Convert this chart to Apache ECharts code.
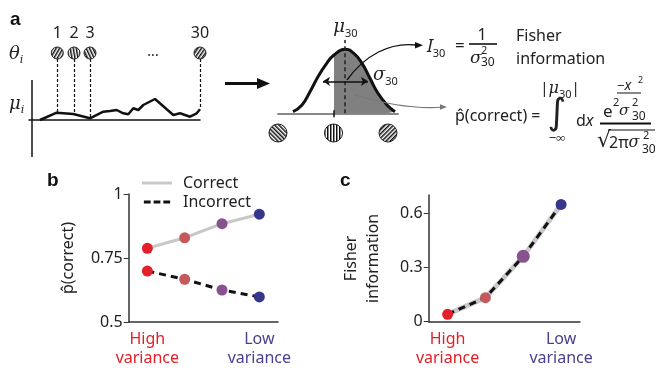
<!DOCTYPE html>
<html>
<head>
<meta charset="utf-8">
<script src="https://cdn.jsdelivr.net/npm/echarts@6/dist/echarts.min.js"></script>
<style>
  html, body { margin: 0; padding: 0; background: #fff; }
  #chart { width: 656px; height: 371px; }
</style>
</head>
<body>
<div id="chart"></div>
<script>
// values
const varianceLevels = ['High variance', 'Mid-high variance', 'Mid-low variance', 'Low variance'];
const levelColors = ['#e3202a', '#c45a5c', '#87528f', '#36368a'];
const pCorrect = [0.788, 0.829, 0.884, 0.921];
const pIncorrect = [0.699, 0.667, 0.625, 0.598];
const fisherInfo = [0.041, 0.133, 0.361, 0.648];
const fisherTicks = [0, 0.3, 0.6];

// panel a: mean response along the stimulus axis
const traceX = [8, 24.7, 41.3, 58, 71.3, 78, 84.7, 91.3, 96.3, 101.3, 106.3, 111.3, 123, 141.3, 148, 158, 164.7, 168];
const traceY = [0, 7.3, 6, 1.7, 8.3, 9, 10, 6.7, 5.7, 11.7, 10, 15, 21, 5, 6.7, 3.3, 6.7, 10.7];
const stimLabels = ['1', '2', '3', '30'];
const stimX = [25.3, 42, 58, 168];
const stimMu = [7.3, 6, 1.7, 10.7];
const stimAngles = [30, -10, -25, 35];

// panel a: response distribution for stimulus 30
const gaussX = [-52, -43, -35, -27, -19, -11, 0, 8, 17, 25, 33, 42, 50];
const gaussY = [1.6, 8.3, 21.6, 36.6, 49, 58.3, 64, 60.6, 50, 35, 20, 8.3, 1.6];
const threshold = -11;
const sigmaLeft = -22, sigmaRight = 23, sigmaLevel = 32;

const FONT = 'Noto Sans';
const MATH = 'DejaVu Serif';
const highColor = '#e3202a';
const lowColor = '#4b3f8e';

const chart = echarts.init(document.getElementById('chart'));

function stripes(deg) {
  const c = document.createElement('canvas');
  c.width = 3; c.height = 3;
  const ctx = c.getContext('2d');
  ctx.fillStyle = '#fff'; ctx.fillRect(0, 0, 3, 3);
  ctx.fillStyle = '#111'; ctx.fillRect(0, 0, 1.5, 3);
  return { image: c, repeat: 'repeat', rotation: deg * Math.PI / 180 };
}

function txt(x, y, text, o) {
  return {
    type: 'text', x: x, y: y, silent: true, z: 20,
    style: Object.assign({
      text: text, fill: '#222', fontFamily: FONT, fontSize: 16,
      align: 'left', verticalAlign: 'middle'
    }, o || {})
  };
}
function seg(x1, y1, x2, y2, o) {
  return {
    type: 'line', silent: true, z: 20,
    shape: { x1: x1, y1: y1, x2: x2, y2: y2 },
    style: Object.assign({ stroke: '#111', lineWidth: 1.5 }, o || {})
  };
}
function tri(points, fill) {
  return { type: 'polygon', silent: true, z: 20, shape: { points: points }, style: { fill: fill || '#111' } };
}
function hatchCircle(cx, cy, r, deg) {
  return {
    type: 'circle', silent: true, z: 20,
    shape: { cx: cx, cy: cy, r: r },
    style: { fill: stripes(deg), stroke: '#222', lineWidth: 1 }
  };
}

const sub = { fontFamily: FONT, fontSize: 11, lineHeight: 11, verticalAlign: 'bottom' };
const subI = { fontFamily: MATH, fontStyle: 'italic', fontSize: 11, lineHeight: 11, verticalAlign: 'bottom' };
const mathI = { fontFamily: MATH, fontStyle: 'italic', fontSize: 18, lineHeight: 24 };

function catAxis(grid) {
  return {
    type: 'category', gridIndex: grid, data: varianceLevels, boundaryGap: true,
    axisLine: { lineStyle: { color: '#333', width: 1.5 } },
    axisTick: { alignWithLabel: true, interval: 0, length: 5, lineStyle: { color: '#333', width: 1.2 } },
    axisLabel: {
      interval: 0, margin: 8, fontFamily: FONT, fontSize: 16, lineHeight: 19,
      formatter: (v, i) => (i === 0 || i === varianceLevels.length - 1) ? v.replace(' ', '\n') : '',
      color: (v, i) => i === 0 ? highColor : lowColor
    },
    splitLine: { show: false }
  };
}
function colored(values, big) {
  return values.map((v, i) => ({ value: v, symbolSize: big && i === big ? 13 : 11, itemStyle: { color: levelColors[i] } }));
}

chart.setOption({
  animation: false,
  backgroundColor: '#fff',
  grid: [
    { left: 29, top: 59, width: 171, height: 98 },
    { left: 278, top: 40, width: 120, height: 77.3 },
    { left: 128.7, top: 194, width: 149.3, height: 128 },
    { left: 428.7, top: 195, width: 151.3, height: 126.7 }
  ],
  legend: {
    orient: 'vertical', left: 137, top: 170, itemWidth: 30, itemHeight: 3, itemGap: 3,
    selectedMode: false,
    textStyle: { fontFamily: FONT, fontSize: 16, color: '#222', padding: [0, 0, 0, 6] },
    data: [
      { name: 'Correct', icon: 'rect', itemStyle: { color: '#c8c8c8' } },
      { name: 'Incorrect', icon: 'path://M0,0h9v4h-9zM13,0h9v4h-9zM26,0h9v4h-9z', itemStyle: { color: '#111' } }
    ]
  },
  xAxis: [
    { type: 'value', gridIndex: 0, min: -3, max: 168,
      axisLine: { onZero: true, lineStyle: { color: '#111', width: 1.5 } },
      axisTick: { show: false }, axisLabel: { show: false }, splitLine: { show: false } },
    { type: 'value', gridIndex: 1, min: -67, max: 53,
      axisLine: { onZero: true, lineStyle: { color: '#888', width: 2 } },
      axisTick: { show: false }, axisLabel: { show: false }, splitLine: { show: false } },
    catAxis(2),
    catAxis(3)
  ],
  yAxis: [
    { type: 'value', gridIndex: 0, min: -37, max: 61, show: false, splitLine: { show: false } },
    { type: 'value', gridIndex: 1, min: -4, max: 73.3, show: false, splitLine: { show: false } },
    { type: 'value', gridIndex: 2, min: 0.5, max: 1, interval: 0.25,
      axisLine: { show: true, lineStyle: { color: '#333', width: 1.5 } },
      axisTick: { show: true, length: 5, lineStyle: { color: '#333' } },
      axisLabel: { fontFamily: FONT, fontSize: 16, color: '#222', margin: 6 },
      splitLine: { show: false },
      name: 'p\u0302(correct)', nameLocation: 'middle', nameGap: 52,
      nameTextStyle: { fontFamily: FONT, fontSize: 16, color: '#222' } },
    { type: 'value', gridIndex: 3, min: 0, max: 0.7,
      axisLine: { show: true, lineStyle: { color: '#333', width: 1.5 } },
      axisTick: { show: true, length: 5, customValues: fisherTicks, lineStyle: { color: '#333' } },
      axisLabel: { fontFamily: FONT, fontSize: 16, color: '#222', margin: 6, customValues: fisherTicks },
      splitLine: { show: false },
      name: 'Fisher\ninformation', nameLocation: 'middle', nameGap: 44,
      nameTextStyle: { fontFamily: FONT, fontSize: 16, color: '#222', lineHeight: 22 } }
  ],
  series: [
    {
      name: 'trace', type: 'line', xAxisIndex: 0, yAxisIndex: 0,
      data: traceX.map((x, i) => [x, traceY[i]]),
      symbol: 'none', lineStyle: { color: '#111', width: 2.5 }, z: 5,
      markLine: {
        silent: true, symbol: ['none', 'none'], label: { show: false },
        data: [
          [{ coord: [0, -37], lineStyle: { type: 'solid', color: '#111', width: 1.5 } }, { coord: [0, 40] }]
        ].concat(stimX.map((x, i) => [
          { coord: [x, 61], lineStyle: { type: [3, 2], color: '#111', width: 1.2 } },
          { coord: [x, stimMu[i]] }
        ]))
      }
    },
    {
      name: 'tail', type: 'line', xAxisIndex: 1, yAxisIndex: 1,
      data: gaussX.map((x, i) => [x, gaussY[i]]).filter(p => p[0] >= threshold),
      smooth: 0.5, symbol: 'none', lineStyle: { width: 0 },
      areaStyle: { color: '#808080', opacity: 1 }, z: 2
    },
    {
      name: 'density', type: 'line', xAxisIndex: 1, yAxisIndex: 1,
      data: gaussX.map((x, i) => [x, gaussY[i]]),
      smooth: 0.5, symbol: 'none', lineStyle: { color: '#111', width: 3 }, z: 4,
      markLine: {
        silent: true, symbol: ['none', 'none'], label: { show: false },
        data: [
          [{ coord: [0, 0], lineStyle: { type: [4, 3], color: '#222', width: 1.5 } }, { coord: [0, 73.3] }],
          [{ coord: [threshold, -4], lineStyle: { type: 'solid', color: '#111', width: 1.5 } }, { coord: [threshold, 3] }],
          [{ coord: [sigmaLeft, sigmaLevel], symbol: 'arrow', symbolSize: 7, lineStyle: { type: 'solid', color: '#111', width: 1.5 } },
           { coord: [sigmaRight, sigmaLevel], symbol: 'arrow', symbolSize: 7 }]
        ]
      }
    },
    {
      name: 'Correct', type: 'line', xAxisIndex: 2, yAxisIndex: 2,
      data: colored(pCorrect), symbol: 'circle', symbolSize: 11,
      lineStyle: { color: '#c8c8c8', width: 3 }, z: 3
    },
    {
      name: 'Incorrect', type: 'line', xAxisIndex: 2, yAxisIndex: 2,
      data: colored(pIncorrect), symbol: 'circle', symbolSize: 11,
      lineStyle: { color: '#111', width: 3, type: [7, 5] }, z: 3
    },
    {
      name: 'Fisher band', type: 'line', xAxisIndex: 3, yAxisIndex: 3,
      data: fisherInfo, symbol: 'none',
      lineStyle: { color: '#c8c8c8', width: 5 }, z: 2
    },
    {
      name: 'Fisher information', type: 'line', xAxisIndex: 3, yAxisIndex: 3,
      data: colored(fisherInfo, 2), symbol: 'circle', symbolSize: 11,
      lineStyle: { color: '#111', width: 3, type: [7, 5] }, z: 3
    }
  ]
});

// annotations
const g = [];
// panel letters
g.push(txt(10, 20, 'a', { fontFamily: 'Liberation Sans', fontWeight: 'bold', fontSize: 19, fill: '#111' }));
g.push(txt(47, 181, 'b', { fontFamily: 'Liberation Sans', fontWeight: 'bold', fontSize: 19, fill: '#111' }));
g.push(txt(340, 181, 'c', { fontFamily: 'Liberation Sans', fontWeight: 'bold', fontSize: 19, fill: '#111' }));

// theta_i / mu_i labels
g.push(txt(9, 54, '{m|\u03b8}{s|i}', { rich: { m: mathI, s: subI } }));
g.push(txt(9, 104, '{m|\u03bc}{s|i}', { rich: { m: mathI, s: subI } }));

// stimulus circles above the trace
stimX.forEach((x, i) => {
  const p = chart.convertToPixel({ gridIndex: 0 }, [x, 61]);
  g.push(hatchCircle(p[0], p[1] - 6, 6, stimAngles[i]));
  g.push(txt(p[0], 33, stimLabels[i], { align: 'center' }));
});
g.push(txt(153, 52, '...', { align: 'center', fontSize: 14 }));

// big arrow
g.push(seg(225, 83.5, 259, 83.5, { lineWidth: 3 }));
g.push(tri([[270, 83.5], [257, 78], [257, 89]]));

// bottom stimulus circles
g.push(hatchCircle(278, 133, 9, -45));
g.push(hatchCircle(333.5, 133, 9, 0));
g.push(hatchCircle(388, 133, 9, 45));

// mu30 and sigma30 labels
g.push(txt(345.5, 27, '{m|\u03bc}{s|30}', { align: 'center', rich: { m: mathI, s: sub } }));
g.push(txt(373, 75, '{m|\u03c3}{s|30}', { rich: { m: mathI, s: sub } }));

// curved arrow to Fisher information
g.push({ type: 'bezierCurve', silent: true, z: 20,
  shape: { x1: 347, y1: 80, cpx1: 365, cpy1: 55, cpx2: 390, cpy2: 42, x2: 416, y2: 45 },
  style: { stroke: '#111', lineWidth: 1.3, fill: null } });
g.push(tri([[423, 45.3], [415, 42], [415, 48.6]]));

// gray arrow to p(correct)
g.push({ type: 'bezierCurve', silent: true, z: 20,
  shape: { x1: 355, y1: 95, cpx1: 385, cpy1: 104, cpx2: 415, cpy2: 109, x2: 441, y2: 107.3 },
  style: { stroke: '#777', lineWidth: 1.1, fill: null } });
g.push(tri([[447, 107], [440, 104.3], [440, 109.7]], '#777'));

// I30 = 1 / sigma^2_30   Fisher information
g.push(txt(427, 47, '{m|I}{s|30}', { rich: { m: { fontFamily: FONT, fontStyle: 'italic', fontSize: 18, lineHeight: 24 }, s: sub } }));
g.push(txt(455, 46, '=', { fontSize: 17 }));
g.push(txt(482, 35, '1', { align: 'center', fontSize: 16 }));
g.push(seg(469, 44, 497, 44, { lineWidth: 1.6 }));
g.push(txt(470, 59, '\u03c3', { fontFamily: MATH, fontStyle: 'italic', fontSize: 17 }));
g.push(txt(481, 51, '2', { fontSize: 11 }));
g.push(txt(481, 63, '30', { fontSize: 12 }));
g.push(txt(516, 36, 'Fisher'));
g.push(txt(516, 59, 'information'));

// p(correct) = integral ...
g.push(txt(455, 116, 'p\u0302(correct) ='));
g.push(txt(560, 89, '|{m|\u03bc}{s|30}|', { align: 'center', fontSize: 15, rich: { m: { fontFamily: MATH, fontStyle: 'italic', fontSize: 16, lineHeight: 22 }, s: sub } }));
g.push(txt(557, 115, '\u222b', { align: 'center', fontFamily: 'DejaVu Sans', fontSize: 36 }));
g.push(txt(557, 138, '\u2212\u221e', { align: 'center', fontSize: 13 }));
g.push(txt(576, 121, 'd{m|x}', { rich: { m: { fontFamily: FONT, fontStyle: 'italic', fontSize: 16 } } }));
g.push(seg(600, 123.5, 651, 123.5, { lineWidth: 1.8 }));
// exponent -x^2 / 2 sigma^2_30
g.push(txt(603, 112, 'e', { fontSize: 17 }));
g.push(txt(617, 86, '\u2212{m|x}', { fontSize: 13, rich: { m: { fontFamily: FONT, fontStyle: 'italic', fontSize: 14 } } }));
g.push(txt(638, 80, '2', { fontSize: 9 }));
g.push(seg(617, 93, 641, 93, { lineWidth: 1 }));
g.push(txt(613, 103, '2', { fontSize: 11 }));
g.push(txt(619, 111, '\u03c3', { fontFamily: MATH, fontStyle: 'italic', fontSize: 15 }));
g.push(txt(632, 103, '2', { fontSize: 11 }));
g.push(txt(632, 117, '30', { fontSize: 12 }));
// denominator sqrt(2 pi sigma^2_30)
g.push(txt(597, 141, '\u221a', { fontFamily: 'DejaVu Sans', fontSize: 22 }));
g.push(seg(608, 130, 655, 130, { lineWidth: 1.2 }));
g.push(txt(609, 143, '2\u03c0{m|\u03c3}', { fontSize: 16, rich: { m: { fontFamily: MATH, fontStyle: 'italic', fontSize: 16 } } }));
g.push(txt(643, 136, '2', { fontSize: 11 }));
g.push(txt(642, 150, '30', { fontSize: 12 }));

chart.setOption({ graphic: { elements: g } });
</script>
</body>
</html>
